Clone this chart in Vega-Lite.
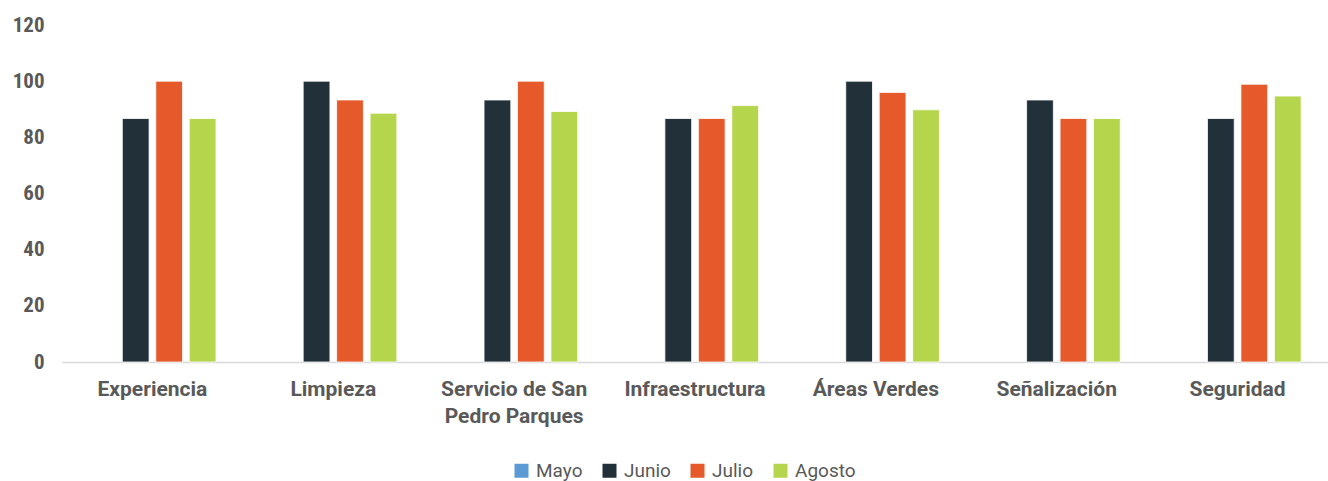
{
  "$schema": "https://vega.github.io/schema/vega-lite/v6.json",
  "width": 1266,
  "height": 337,
  "autosize": {"type": "none"},
  "padding": {"left": 62, "top": 25, "right": 0, "bottom": 119},
  "background": "white",
  "data": {
    "values": [
      {"categoria": "Experiencia", "mes": "Junio", "valor": 86.7},
      {"categoria": "Experiencia", "mes": "Julio", "valor": 100},
      {"categoria": "Experiencia", "mes": "Agosto", "valor": 86.7},
      {"categoria": "Limpieza", "mes": "Junio", "valor": 100},
      {"categoria": "Limpieza", "mes": "Julio", "valor": 93.3},
      {"categoria": "Limpieza", "mes": "Agosto", "valor": 88.6},
      {"categoria": "Servicio de San Pedro Parques", "mes": "Junio", "valor": 93.3},
      {"categoria": "Servicio de San Pedro Parques", "mes": "Julio", "valor": 100},
      {"categoria": "Servicio de San Pedro Parques", "mes": "Agosto", "valor": 89.2},
      {"categoria": "Infraestructura", "mes": "Junio", "valor": 86.7},
      {"categoria": "Infraestructura", "mes": "Julio", "valor": 86.7},
      {"categoria": "Infraestructura", "mes": "Agosto", "valor": 91.3},
      {"categoria": "Áreas Verdes", "mes": "Junio", "valor": 100},
      {"categoria": "Áreas Verdes", "mes": "Julio", "valor": 96},
      {"categoria": "Áreas Verdes", "mes": "Agosto", "valor": 89.8},
      {"categoria": "Señalización", "mes": "Junio", "valor": 93.3},
      {"categoria": "Señalización", "mes": "Julio", "valor": 86.7},
      {"categoria": "Señalización", "mes": "Agosto", "valor": 86.7},
      {"categoria": "Seguridad", "mes": "Junio", "valor": 86.7},
      {"categoria": "Seguridad", "mes": "Julio", "valor": 98.9},
      {"categoria": "Seguridad", "mes": "Agosto", "valor": 94.7}
    ]
  },
  "mark": {"type": "bar", "stroke": "white", "strokeWidth": 0.8},
  "encoding": {
    "x": {
      "field": "categoria",
      "type": "nominal",
      "sort": ["Experiencia", "Limpieza", "Servicio de San Pedro Parques", "Infraestructura", "Áreas Verdes", "Señalización", "Seguridad"],
      "scale": {"paddingInner": 0.26, "paddingOuter": 0.13},
      "axis": {
        "title": null,
        "labelAngle": 0,
        "ticks": false,
        "domainColor": "#d9d9d9",
        "domainWidth": 1.5,
        "labelFont": "Roboto",
        "labelFontWeight": "bold",
        "labelFontSize": 21,
        "labelColor": "#595959",
        "labelPadding": 16,
        "labelLineHeight": 27,
        "labelBaseline": "top",
        "labelExpr": "datum.label == 'Servicio de San Pedro Parques' ? ['Servicio de San', 'Pedro Parques'] : datum.label"
      }
    },
    "xOffset": {
      "field": "mes",
      "type": "nominal",
      "scale": {"domain": ["Mayo", "Junio", "Julio", "Agosto"], "paddingInner": 0.2, "paddingOuter": 0.1}
    },
    "y": {
      "field": "valor",
      "type": "quantitative",
      "scale": {"domain": [0, 120], "nice": false},
      "axis": {
        "title": null,
        "values": [0, 20, 40, 60, 80, 100, 120],
        "grid": false,
        "domain": false,
        "ticks": false,
        "labelFont": "Roboto Condensed, Liberation Sans Narrow, Roboto",
        "labelFontWeight": "bold",
        "labelFontSize": 21,
        "labelColor": "#595959",
        "labelPadding": 18
      }
    },
    "color": {
      "field": "mes",
      "type": "nominal",
      "scale": {
        "domain": ["Mayo", "Junio", "Julio", "Agosto"],
        "range": ["#5B9BD5", "#22303A", "#E5592A", "#B5D64C"]
      },
      "legend": {
        "title": null,
        "orient": "none",
        "legendX": 450,
        "legendY": 436,
        "padding": 0,
        "direction": "horizontal",
        "symbolType": "square",
        "symbolSize": 196,
        "symbolStrokeWidth": 0,
        "labelFont": "Roboto",
        "labelFontSize": 19,
        "labelOffset": 5,
        "labelColor": "#595959",
        "columnPadding": 17
      }
    }
  },
  "config": {"view": {"stroke": null}}
}
